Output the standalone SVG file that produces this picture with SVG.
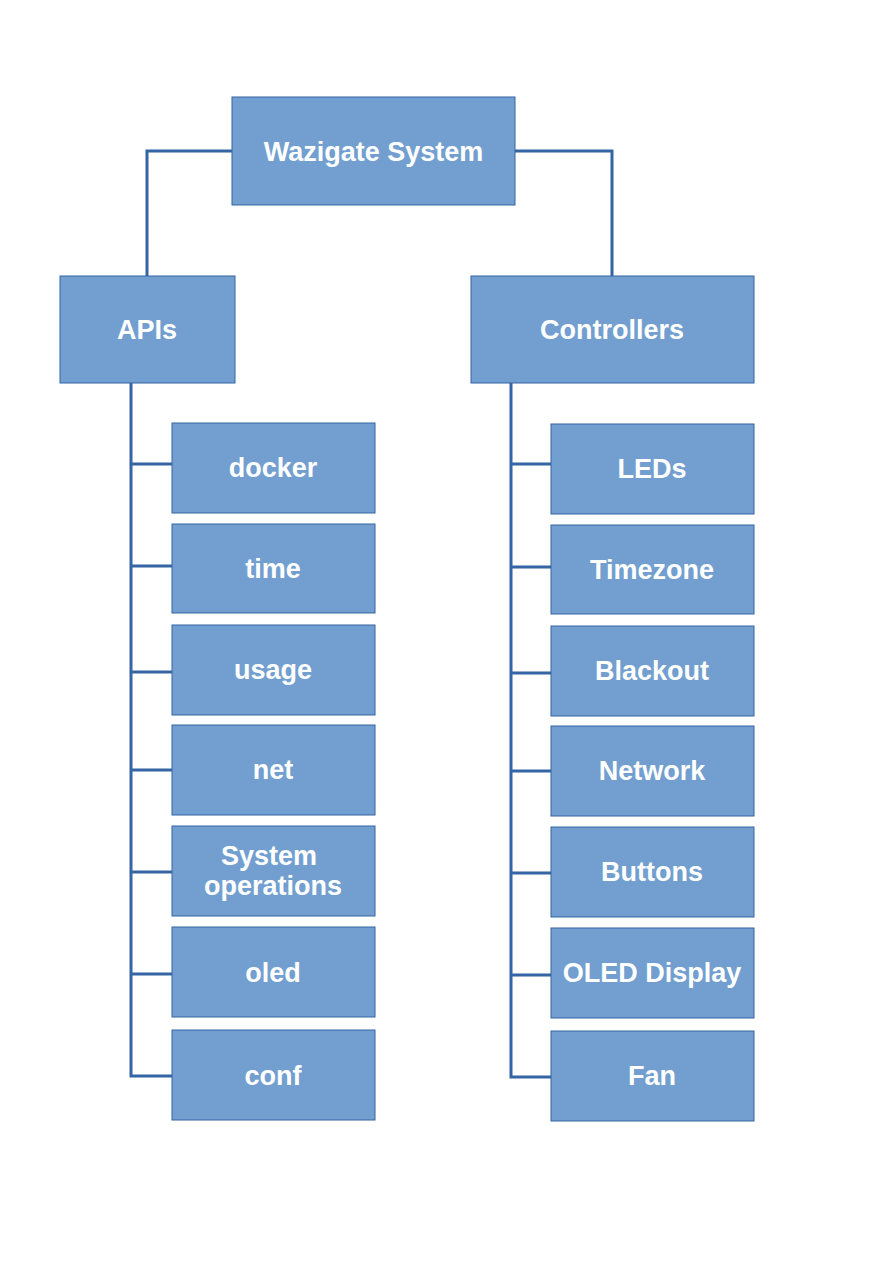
<svg xmlns="http://www.w3.org/2000/svg" width="893" height="1263" viewBox="0 0 893 1263">
<style>
.box{fill:#729fcf;stroke:#3465a4;stroke-width:1}
.lbl{fill:#ffffff;font-family:"Liberation Sans",Arial,sans-serif;font-weight:bold;font-size:27px;text-anchor:middle}
.con{fill:none;stroke:#3465a4;stroke-width:3}
</style>
<rect width="893" height="1263" fill="#ffffff"/>
<g id="connectors" class="con">
<polyline points="232,151 147,151 147,276"/>
<polyline points="515,151 612,151 612,276"/>
<polyline points="131,383 131,1076 172,1076"/>
<line x1="131" y1="464" x2="172" y2="464"/>
<line x1="131" y1="566" x2="172" y2="566"/>
<line x1="131" y1="672" x2="172" y2="672"/>
<line x1="131" y1="770" x2="172" y2="770"/>
<line x1="131" y1="872" x2="172" y2="872"/>
<line x1="131" y1="974" x2="172" y2="974"/>
<polyline points="511,383 511,1077 551,1077"/>
<line x1="511" y1="464" x2="551" y2="464"/>
<line x1="511" y1="567" x2="551" y2="567"/>
<line x1="511" y1="673" x2="551" y2="673"/>
<line x1="511" y1="771" x2="551" y2="771"/>
<line x1="511" y1="873" x2="551" y2="873"/>
<line x1="511" y1="975" x2="551" y2="975"/>
</g>
<g id="wazigate"><rect class="box" x="232" y="97" width="283" height="108"/><text class="lbl" x="373.5" y="161" font-size="28">Wazigate System</text></g>
<g id="apis"><rect class="box" x="60" y="276" width="175" height="107"/><text class="lbl" x="147" y="339">APIs</text></g>
<g id="controllers"><rect class="box" x="471" y="276" width="283" height="107"/><text class="lbl" x="612" y="339">Controllers</text></g>
<g id="docker"><rect class="box" x="172" y="423" width="203" height="90"/><text class="lbl" x="273" y="477">docker</text></g>
<g id="time"><rect class="box" x="172" y="524" width="203" height="89"/><text class="lbl" x="273" y="578">time</text></g>
<g id="usage"><rect class="box" x="172" y="625" width="203" height="90"/><text class="lbl" x="273" y="679">usage</text></g>
<g id="net"><rect class="box" x="172" y="725" width="203" height="90"/><text class="lbl" x="273" y="779">net</text></g>
<g id="sysops"><rect class="box" x="172" y="826" width="203" height="90"/><text class="lbl" x="269" y="865">System</text><text class="lbl" x="273" y="895">operations</text></g>
<g id="oled"><rect class="box" x="172" y="927" width="203" height="90"/><text class="lbl" x="273" y="982">oled</text></g>
<g id="conf"><rect class="box" x="172" y="1030" width="203" height="90"/><text class="lbl" x="273" y="1085">conf</text></g>
<g id="leds"><rect class="box" x="551" y="424" width="203" height="90"/><text class="lbl" x="652" y="478">LEDs</text></g>
<g id="timezone"><rect class="box" x="551" y="525" width="203" height="89"/><text class="lbl" x="652" y="579">Timezone</text></g>
<g id="blackout"><rect class="box" x="551" y="626" width="203" height="90"/><text class="lbl" x="652" y="680">Blackout</text></g>
<g id="network"><rect class="box" x="551" y="726" width="203" height="90"/><text class="lbl" x="652" y="780">Network</text></g>
<g id="buttons"><rect class="box" x="551" y="827" width="203" height="90"/><text class="lbl" x="652" y="881">Buttons</text></g>
<g id="oleddisplay"><rect class="box" x="551" y="928" width="203" height="90"/><text class="lbl" x="652" y="982">OLED Display</text></g>
<g id="fan"><rect class="box" x="551" y="1031" width="203" height="90"/><text class="lbl" x="652" y="1085">Fan</text></g>
</svg>
